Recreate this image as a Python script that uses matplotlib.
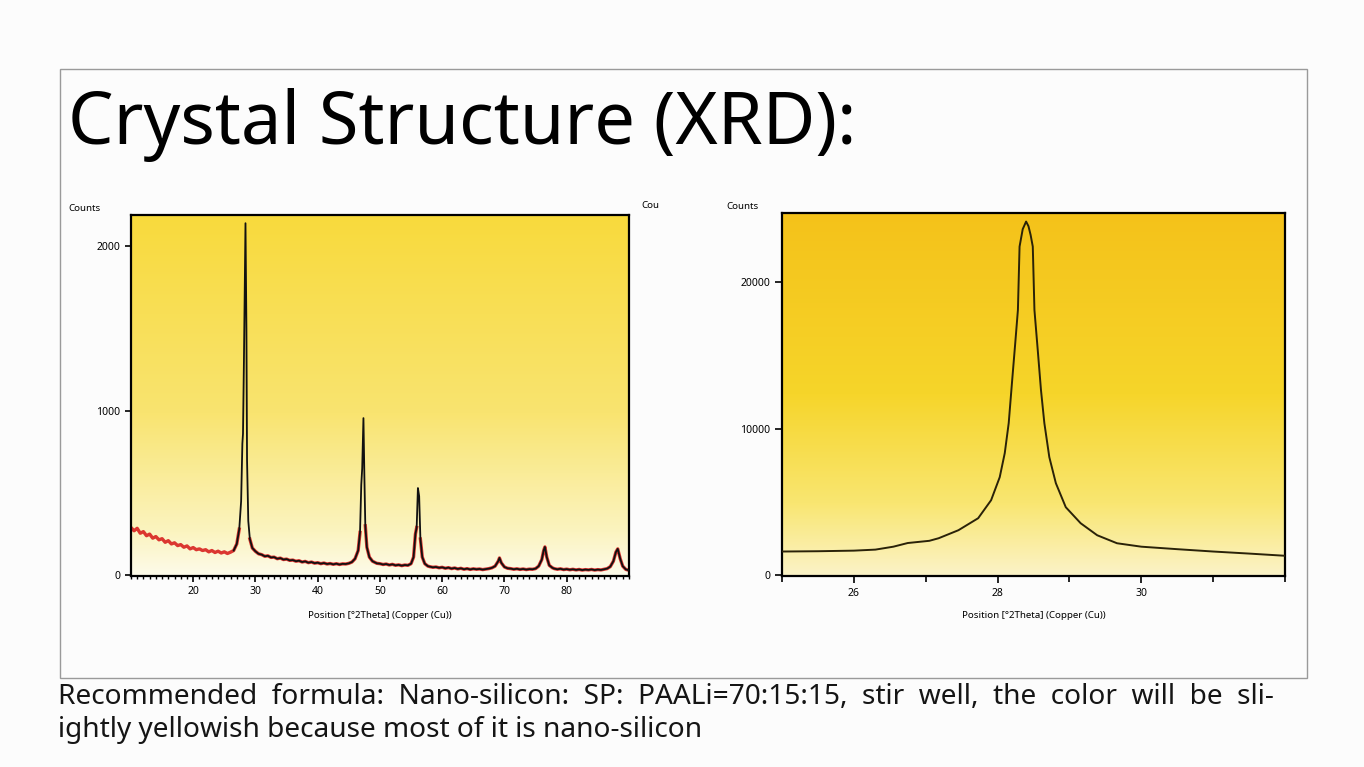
import matplotlib
matplotlib.use("Agg")
import matplotlib.pyplot as plt
import numpy as np
from matplotlib.colors import LinearSegmentedColormap
from matplotlib.patches import Rectangle
from matplotlib.ticker import MultipleLocator

plt.rcParams['font.family'] = ['Noto Sans', 'DejaVu Sans']

# left pattern: wide scan, 2theta vs counts
x_wide = [10, 10.5, 11, 11.5, 12, 12.5, 13, 13.5, 14, 14.5, 15, 15.5, 16, 16.5, 17, 17.5,
          18, 18.5, 19, 19.5, 20, 20.5, 21, 21.5, 22, 22.5, 23, 23.5, 24, 24.5, 25, 25.5,
          26, 26.5, 27, 27.4, 27.7, 27.9, 28.0, 28.15, 28.4, 28.55, 28.65, 28.85, 29.1, 29.5,
          30, 30.5, 31, 31.5, 32, 32.5, 33, 33.5, 34, 34.5, 35, 35.5, 36, 36.5, 37, 37.5,
          38, 38.5, 39, 39.5, 40, 40.5, 41, 41.5, 42, 42.5, 43, 43.5, 44, 44.5, 45, 45.5,
          46, 46.5, 46.8, 47.0, 47.15, 47.35, 47.5, 47.65, 47.9, 48.3, 48.8, 49.5,
          50, 50.5, 51, 51.5, 52, 52.5, 53, 53.5, 54, 54.5, 55, 55.4, 55.7, 55.9, 56.1,
          56.3, 56.5, 56.8, 57.2, 57.7, 58, 58.5, 59, 59.5, 60, 60.5, 61, 61.5, 62, 62.5,
          63, 63.5, 64, 64.5, 65, 65.5, 66, 66.5, 67, 67.5, 68, 68.5, 69.0, 69.2, 69.5,
          70, 70.5, 71, 71.5, 72, 72.5, 73, 73.5, 74, 74.5, 75, 75.5, 76.0, 76.3, 76.5,
          76.8, 77.2, 77.7, 78, 78.5, 79, 79.5, 80, 80.5, 81, 81.5, 82, 82.5, 83, 83.5,
          84, 84.5, 85, 85.5, 86, 86.5, 87, 87.5, 87.9, 88.2, 88.6, 89, 89.5, 90]
y_wide = [290, 270, 285, 255, 265, 240, 250, 225, 235, 215, 222, 200, 210, 190, 197, 180,
          186, 170, 178, 160, 168, 155, 160, 150, 155, 142, 150, 138, 146, 135, 142, 132,
          140, 150, 190, 280, 450, 800, 860, 1300, 2140, 1500, 700, 330, 220, 165,
          145, 130, 125, 115, 118, 108, 110, 100, 104, 95, 98, 90, 92, 85, 88, 80,
          84, 76, 80, 73, 76, 70, 74, 68, 71, 66, 70, 65, 69, 68, 72, 80,
          100, 150, 260, 550, 650, 955, 600, 300, 170, 110, 85, 72,
          70, 65, 68, 62, 66, 60, 63, 58, 62, 60, 70, 110, 250, 290, 530,
          480, 220, 110, 70, 55, 52, 48, 50, 45, 48, 42, 46, 40, 44, 38,
          42, 36, 40, 35, 39, 36, 38, 34, 37, 40, 45, 55, 85, 105, 75,
          50, 42, 40, 36, 39, 35, 38, 34, 37, 36, 40, 55, 95, 150, 172,
          110, 60, 45, 40, 36, 39, 34, 37, 33, 36, 32, 35, 31, 34, 32,
          35, 31, 34, 32, 36, 40, 52, 85, 140, 160, 100, 55, 35, 30]

# right pattern: zoom on the Si(111) peak
x_zoom = [25.0, 25.5, 26.0, 26.3, 26.55, 26.75, 26.95, 27.05, 27.18, 27.455, 27.73, 27.91,
          28.03, 28.10, 28.155, 28.2, 28.246, 28.283, 28.306, 28.35, 28.397, 28.43, 28.46,
          28.49, 28.513, 28.559, 28.604, 28.651, 28.72, 28.811, 28.949, 29.156, 29.386,
          29.662, 30.0, 30.5, 31.0, 31.5, 32.0]
y_zoom = [1620, 1640, 1680, 1750, 1950, 2200, 2300, 2350, 2526, 3072, 3891, 5119,
          6689, 8328, 10375, 13106, 15836, 18089, 22410, 23600, 24116, 23800, 23200,
          22410, 18089, 15358, 12628, 10375, 8055, 6280, 4642, 3549, 2730,
          2184, 1950, 1780, 1620, 1480, 1330]

left_yticks = [0, 1000, 2000]
right_yticks = [0, 10000, 20000]
right_xticks = [26, 28, 30]
xlabel = "Position [°2Theta] (Copper (Cu))"

# first caption line is spread out (justified) in the original
line1_words = ["Recommended", "formula:", "Nano-silicon:", "SP:", "PAALi=70:15:15,",
               "stir", "well,", "the", "color", "will", "be", "sli-"]
line2 = "ightly yellowish because most of it is nano-silicon"

W, H = 1364, 767
fig = plt.figure(figsize=(W / 100, H / 100), dpi=100)
fig.patch.set_facecolor('#fcfcfc')

fig.patches.append(Rectangle((0.044, 0.116), 0.914, 0.794, transform=fig.transFigure,
                             fill=False, edgecolor='#9a9a9a', linewidth=1.0))

fig.text(0.050, 0.837, "Crystal Structure (XRD):", fontsize=52, va='center', ha='left')
fig.text(58 / W, 0.0913, "  ".join(line1_words), fontsize=20.2, va='center', ha='left',
         color='#151515')
fig.text(58 / W, 0.0482, line2, fontsize=20.2, va='center', ha='left', color='#151515')

cmap_l = LinearSegmentedColormap.from_list('l', [(0, '#fdfbea'), (0.12, '#fbf4c0'),
                                                 (0.45, '#f9e470'), (1, '#f8da3c')])
cmap_r = LinearSegmentedColormap.from_list('r', [(0, '#fbf3c8'), (0.2, '#f9e671'),
                                                 (0.5, '#f6d52a'), (1, '#f4c21a')])
grad = np.linspace(0, 1, 256).reshape(-1, 1)

# left axes
ax1 = fig.add_axes([0.0960, 0.2490, 0.3651, 0.4707])
ax1.imshow(grad, aspect='auto', cmap=cmap_l, origin='lower',
           extent=[10, 90, -5, 2190], zorder=0)
xw = np.array(x_wide)
yw = np.array(y_wide, dtype=float)
red_y = np.where(yw > 300, np.nan, yw)
ax1.plot(xw, red_y, color='#d61515', lw=2.4, alpha=0.85, zorder=2)
black = xw >= 26.5
ax1.plot(xw[black], yw[black], color='#111111', lw=1.3, zorder=3)
ax1.set_xlim(10, 90)
ax1.set_ylim(-5, 2190)
ax1.set_yticks(left_yticks)
ax1.set_xticks(range(20, 90, 10))
ax1.xaxis.set_minor_locator(MultipleLocator(1))
ax1.tick_params(labelsize=7.5, length=4, width=1.2)
ax1.tick_params(which='minor', length=2.5, width=1)
ax1.set_xlabel(xlabel, fontsize=7, labelpad=10)
for s in ax1.spines.values():
    s.set_linewidth(1.6)
fig.text(0.0623, 0.7288, "Counts", fontsize=7, va='center', ha='center')

# right axes
ax2 = fig.add_axes([0.5733, 0.2490, 0.3688, 0.4733])
ax2.imshow(grad, aspect='auto', cmap=cmap_r, origin='lower',
           extent=[25, 32, -50, 24700], zorder=0)
ax2.plot(x_zoom, y_zoom, color='#2a2208', lw=1.4, zorder=3)
ax2.set_xlim(25, 32)
ax2.set_ylim(-50, 24700)
ax2.set_yticks(right_yticks)
ax2.set_xticks(right_xticks)
ax2.xaxis.set_minor_locator(MultipleLocator(1))
ax2.tick_params(labelsize=7.5, length=5, width=1.2)
ax2.tick_params(which='minor', length=4, width=1.2)
ax2.set_xlabel(xlabel, fontsize=7, labelpad=9)
for s in ax2.spines.values():
    s.set_linewidth(1.6)
fig.text(0.4765, 0.7327, "Cou", fontsize=7, va='center', ha='center')
fig.text(0.5440, 0.7314, "Counts", fontsize=7, va='center', ha='center')

fig.savefig("out.png", dpi=100, facecolor=fig.get_facecolor())
